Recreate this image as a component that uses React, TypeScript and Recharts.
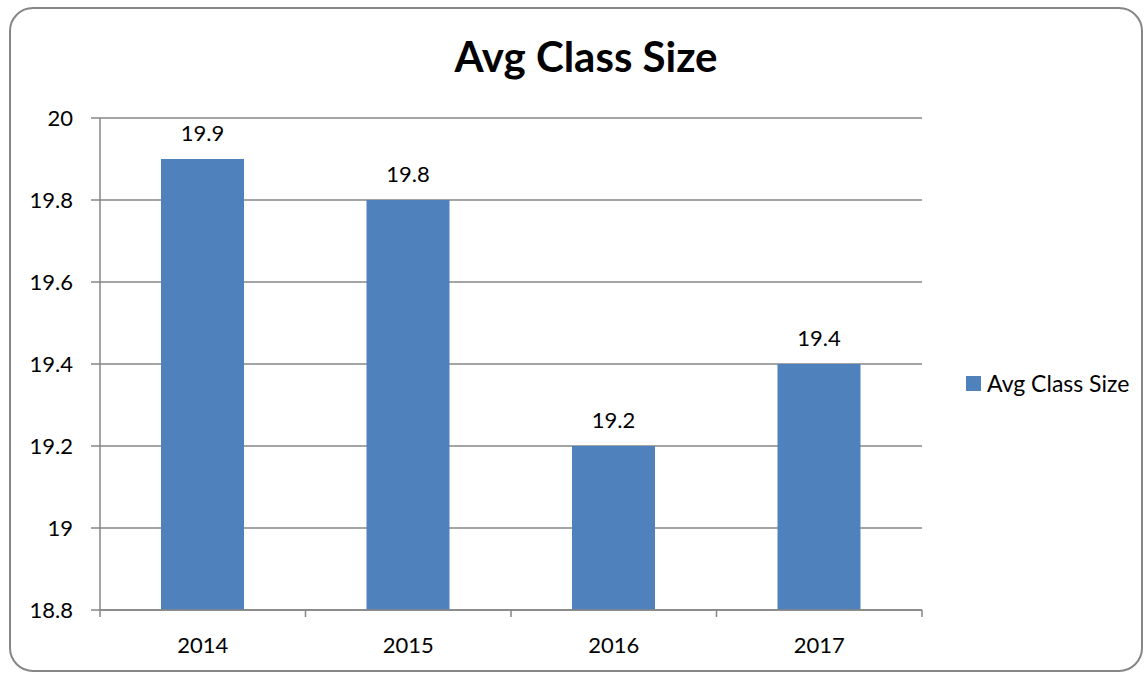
import React from 'react';
import { BarChart, Bar, XAxis, YAxis, CartesianGrid, Legend, LabelList } from 'recharts';

const years = ['2014', '2015', '2016', '2017'];
const avgClassSize = [19.9, 19.8, 19.2, 19.4];
const yTicks = [18.8, 19, 19.2, 19.4, 19.6, 19.8, 20];

const data = years.map((year, i) => ({ year, size: avgClassSize[i] }));

const FONT = 'Lato, "Open Sans", sans-serif';
const BLUE = '#4F81BD';
const GRAY = '#868686';

// plot box
const W = 1147;
const H = 677;
const M = { top: 118, right: 225, bottom: 27, left: 40 };
const Y_AXIS_W = 60;
const X_AXIS_H = 40;
const PLOT_W = W - M.left - M.right - Y_AXIS_W;
const PLOT_BOTTOM = H - M.bottom - X_AXIS_H;
const BAND = PLOT_W / years.length;

const fmt = (v: number) => Number(v.toFixed(1)).toString();

const YearTick = (props: any) => {
  const { x, y, payload, index } = props;
  const left = x - BAND / 2;
  return (
    <g>
      <line x1={left} x2={left} y1={PLOT_BOTTOM} y2={PLOT_BOTTOM + 7} stroke={GRAY} strokeWidth={1.5} />
      {index === years.length - 1 && (
        <line x1={left + BAND} x2={left + BAND} y1={PLOT_BOTTOM} y2={PLOT_BOTTOM + 7} stroke={GRAY} strokeWidth={1.5} />
      )}
      <text x={x} y={y} dy="0.71em" textAnchor="middle" fill="#000" fontSize={22} fontFamily={FONT}>
        {payload.value}
      </text>
    </g>
  );
};

const LegendBox = () => (
  <div style={{ display: 'flex', alignItems: 'center', fontFamily: FONT, fontSize: 23, color: '#000' }}>
    <span style={{ display: 'inline-block', width: 15, height: 15, background: BLUE, marginRight: 6 }} />
    Avg Class Size
  </div>
);

export default function App() {
  return (
    <div style={{ position: 'absolute', left: 0, top: 0, width: W, height: H, background: '#fff' }}>
      <div
        style={{
          position: 'absolute', left: 9, top: 7, width: 1134, height: 665,
          border: `2px solid ${GRAY}`, borderRadius: 24, boxSizing: 'border-box'
        }}
      />
      <div
        style={{
          position: 'absolute', left: 0, top: 30, width: 1172, textAlign: 'center',
          fontFamily: FONT, fontWeight: 'bold', fontSize: 42, lineHeight: '52px', color: '#000'
        }}
      >
        Avg Class Size
      </div>
      <div style={{ position: 'absolute', left: 0, top: 0 }}>
        <BarChart width={W} height={H} data={data} margin={M}>
          <CartesianGrid vertical={false} stroke={GRAY} strokeWidth={1.5} />
          <XAxis
            dataKey="year"
            height={X_AXIS_H}
            axisLine={{ stroke: GRAY, strokeWidth: 1.5 }}
            tickLine={false}
            tickSize={0}
            tickMargin={27}
            tick={<YearTick />}
          />
          <YAxis
            width={Y_AXIS_W}
            domain={[18.8, 20]}
            ticks={yTicks}
            allowDataOverflow
            tickFormatter={fmt}
            tickSize={9}
            tickMargin={18}
            axisLine={{ stroke: GRAY, strokeWidth: 1.5 }}
            tickLine={{ stroke: GRAY, strokeWidth: 1.5 }}
            tick={{ fill: '#000', fontSize: 22, fontFamily: FONT }}
          />
          <Legend
            layout="vertical"
            align="center"
            verticalAlign="middle"
            content={() => <LegendBox />}
            wrapperStyle={{ position: 'absolute', left: 966, top: 369, width: 181 }}
          />
          <Bar dataKey="size" name="Avg Class Size" fill={BLUE} barSize={83} isAnimationActive={false}>
            <LabelList
              dataKey="size"
              position="top"
              offset={18}
              formatter={(v: any) => fmt(Number(v))}
              style={{ fill: '#000', fontSize: 22, fontFamily: FONT }}
            />
          </Bar>
        </BarChart>
      </div>
    </div>
  );
}
